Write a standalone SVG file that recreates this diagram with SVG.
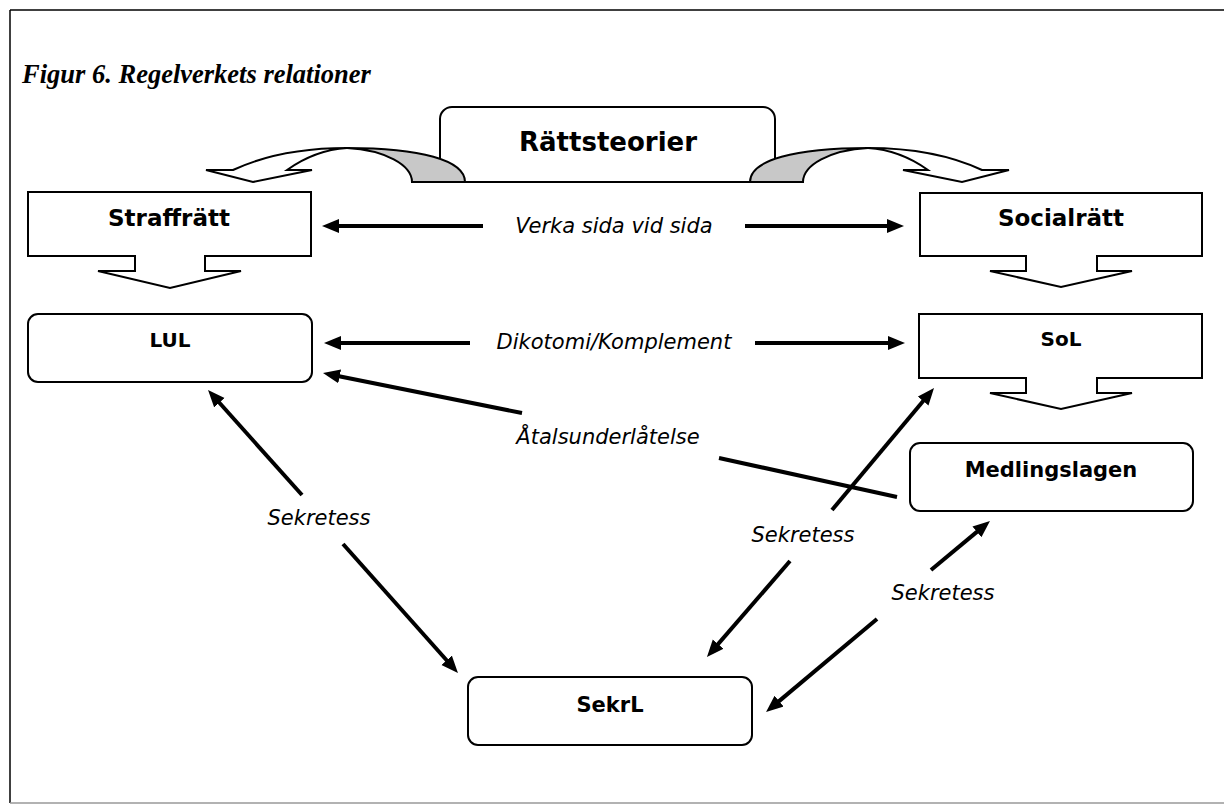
<svg xmlns="http://www.w3.org/2000/svg" width="1224" height="812" viewBox="0 0 1224 812">
<style>
.box{fill:#fff;stroke:#000;stroke-width:2}
.nl{font-family:"DejaVu Sans","Liberation Sans",sans-serif;font-weight:bold;text-anchor:middle;fill:#000}
.el{font-family:"DejaVu Sans","Liberation Sans",sans-serif;font-style:italic;font-size:21px;text-anchor:middle;fill:#000}
.cn{stroke:#000;stroke-width:4;fill:none}
.arr{marker-end:url(#ah)}
.back{fill:#c8c8c8;stroke:#000;stroke-width:2}
</style>
<defs>
<marker id="ah" markerUnits="userSpaceOnUse" markerWidth="20" markerHeight="16" refX="7" refY="7" orient="auto">
<path d="M0,0 L17,7 L0,14 Z" fill="#000"/>
</marker>
</defs>
<rect width="1224" height="812" fill="#fff"/>
<g id="frame">
<line x1="10" y1="10" x2="1224" y2="10" stroke="#000" stroke-width="1.5"/>
<line x1="10" y1="10" x2="10" y2="803" stroke="#000" stroke-width="1.5"/>
<line x1="10" y1="803" x2="1224" y2="803" stroke="#999" stroke-width="1.5"/>
</g>
<text id="title" x="22" y="83" font-family="'Liberation Serif',serif" font-weight="bold" font-style="italic" font-size="26.5">Figur 6. Regelverkets relationer</text>
<g id="rattsteorier">
<rect class="box" x="440" y="107" width="335" height="75" rx="12"/>
<text class="nl" x="608" y="151" font-size="26">Rättsteorier</text>
<path class="back" d="M347,148 C420,148 465,160 465,182 L412,182 C412,165 385,150 347,148 Z"/>
<path class="box" d="M206,170 L233,170 Q280,148 347,148 Q315,150 287,170 L312,170 L253,182 Z"/>
<path class="back" d="M868,148 C795,148 750,160 750,182 L803,182 C803,165 830,150 868,148 Z"/>
<path class="box" d="M1009,170 L982,170 Q935,148 868,148 Q900,150 928,170 L903,170 L962,182 Z"/>
</g>
<g id="straffratt">
<path class="box" d="M28,192 H311 V256 H205 V271 H241 L170,288 L98,271 H135 V256 H28 Z"/>
<text class="nl" x="169" y="226" font-size="23">Straffrätt</text>
</g>
<g id="socialratt">
<path class="box" d="M920,193 H1202 V256 H1097 V271 H1132 L1061,287 L990,271 H1026 V256 H920 Z"/>
<text class="nl" x="1061" y="226" font-size="23">Socialrätt</text>
</g>
<g id="lul">
<rect class="box" x="28" y="314" width="284" height="68" rx="10"/>
<text class="nl" x="170" y="347" font-size="20">LUL</text>
</g>
<g id="sol">
<path class="box" d="M919,314 H1202 V378 H1097 V393 H1132 L1061,409 L990,393 H1026 V378 H919 Z"/>
<text class="nl" x="1061" y="346" font-size="20">SoL</text>
</g>
<g id="medlingslagen">
<rect class="box" x="910" y="443" width="283" height="68" rx="10"/>
<text class="nl" x="1051" y="477" font-size="21">Medlingslagen</text>
</g>
<g id="sekrl">
<rect class="box" x="468" y="677" width="284" height="68" rx="10"/>
<text class="nl" x="610" y="712" font-size="21">SekrL</text>
</g>
<g id="connectors">
<line class="cn arr" x1="483" y1="226" x2="332" y2="226"/>
<line class="cn arr" x1="745" y1="226" x2="894" y2="226"/>
<line class="cn arr" x1="470" y1="343" x2="334" y2="343"/>
<line class="cn arr" x1="755" y1="343" x2="895" y2="343"/>
<line class="cn arr" x1="522" y1="413" x2="332.8" y2="375"/>
<line class="cn" x1="719" y1="458" x2="897" y2="497"/>
<line class="cn arr" x1="302" y1="495" x2="214.7" y2="397.5"/>
<line class="cn arr" x1="343" y1="544" x2="451.3" y2="665.5"/>
<line class="cn arr" x1="832" y1="510" x2="927.6" y2="395.7"/>
<line class="cn arr" x1="790" y1="561" x2="713.5" y2="649.4"/>
<line class="cn arr" x1="931" y1="570" x2="982.3" y2="527.4"/>
<line class="cn arr" x1="877" y1="619" x2="773.7" y2="705.6"/>
<text class="el" x="614" y="233">Verka sida vid sida</text>
<text class="el" x="614" y="349">Dikotomi/Komplement</text>
<text class="el" x="608" y="444">Åtalsunderlåtelse</text>
<text class="el" x="319" y="525">Sekretess</text>
<text class="el" x="803" y="542">Sekretess</text>
<text class="el" x="943" y="600">Sekretess</text>
</g>
</svg>
